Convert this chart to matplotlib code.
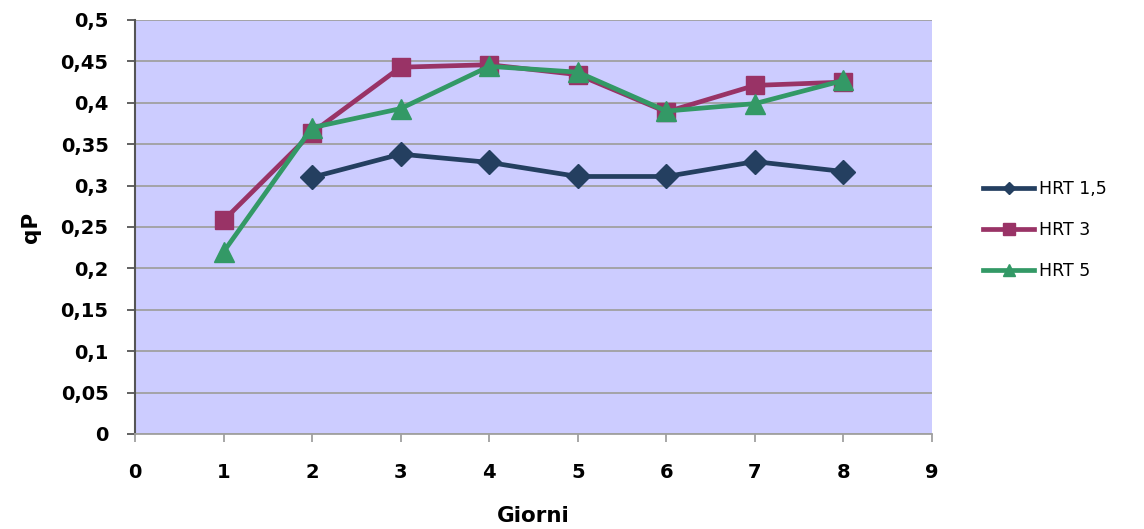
import matplotlib
matplotlib.use("Agg")
import matplotlib.pyplot as plt
from matplotlib.ticker import FixedLocator, FuncFormatter

plt.rcParams['font.family'] = ['DejaVu Sans']

# Sampling days and specific production values for each HRT
days_hrt15 = [2, 3, 4, 5, 6, 7, 8]
qp_hrt15 = [0.310, 0.338, 0.328, 0.311, 0.311, 0.329, 0.317]

days_hrt3 = [1, 2, 3, 4, 5, 6, 7, 8]
qp_hrt3 = [0.258, 0.364, 0.443, 0.446, 0.434, 0.389, 0.421, 0.425]

days_hrt5 = [1, 2, 3, 4, 5, 6, 7, 8]
qp_hrt5 = [0.220, 0.370, 0.393, 0.444, 0.437, 0.390, 0.399, 0.427]

series_labels = ["HRT 1,5", "HRT 3", "HRT 5"]
x_ticks = list(range(0, 10))
y_ticks = [i * 0.05 for i in range(11)]

fig = plt.figure(figsize=(11.44, 5.29), dpi=100)
ax = fig.add_axes([0.118, 0.1796, 0.6967, 0.7826])
ax.set_facecolor('#CCCCFF')

c_navy = '#243F60'
c_plum = '#993366'
c_green = '#339966'

ax.plot(days_hrt15, qp_hrt15, color=c_navy, lw=3.4, marker='D', ms=12,
        mec=c_navy, mfc=c_navy, zorder=3)
ax.plot(days_hrt3, qp_hrt3, color=c_plum, lw=3.4, marker='s', ms=13.5,
        mec=c_plum, mfc=c_plum, zorder=4)
ax.plot(days_hrt5, qp_hrt5, color=c_green, lw=3.4, marker='^', ms=14,
        mec=c_green, mfc=c_green, zorder=5)

ax.set_xlim(0, 9)
ax.set_ylim(0, 0.5)
ax.xaxis.set_major_locator(FixedLocator(x_ticks))
ax.yaxis.set_major_locator(FixedLocator(y_ticks))
ax.yaxis.set_major_formatter(FuncFormatter(
    lambda v, p: ('%g' % round(v, 2)).replace('.', ',')))

ax.grid(axis='y', color='#A0A0A0', lw=1.3, zorder=1)
ax.set_axisbelow(True)
for s in ['top', 'right']:
    ax.spines[s].set_visible(False)
ax.spines['left'].set_color('#555555')
ax.spines['left'].set_linewidth(1.5)
ax.spines['bottom'].set_color('#A0A0A0')
ax.spines['bottom'].set_linewidth(1.3)
ax.tick_params(axis='y', direction='out', length=6, width=1.3, color='#555555',
               labelsize=14, pad=13)
ax.tick_params(axis='x', direction='out', length=6, width=1.3, color='#A0A0A0',
               labelsize=14, pad=15)
for lab in ax.get_xticklabels() + ax.get_yticklabels():
    lab.set_fontweight('bold')

ax.set_xlabel('Giorni', fontsize=15.5, fontweight='bold', labelpad=17)
ax.set_ylabel('qP', fontsize=15.5, fontweight='bold', labelpad=14)

h1, = ax.plot([], [], color=c_navy, lw=3.4, marker='D', ms=6)
h2, = ax.plot([], [], color=c_plum, lw=3.4, marker='s', ms=9)
h3, = ax.plot([], [], color=c_green, lw=3.4, marker='^', ms=8)
fig.legend([h1, h2, h3], series_labels, loc='upper left',
           bbox_to_anchor=(0.846, 0.690), frameon=False, fontsize=12.5,
           handlelength=2.9, handletextpad=0.3, labelspacing=1.35)

fig.savefig('out.png', dpi=100, facecolor='white')
